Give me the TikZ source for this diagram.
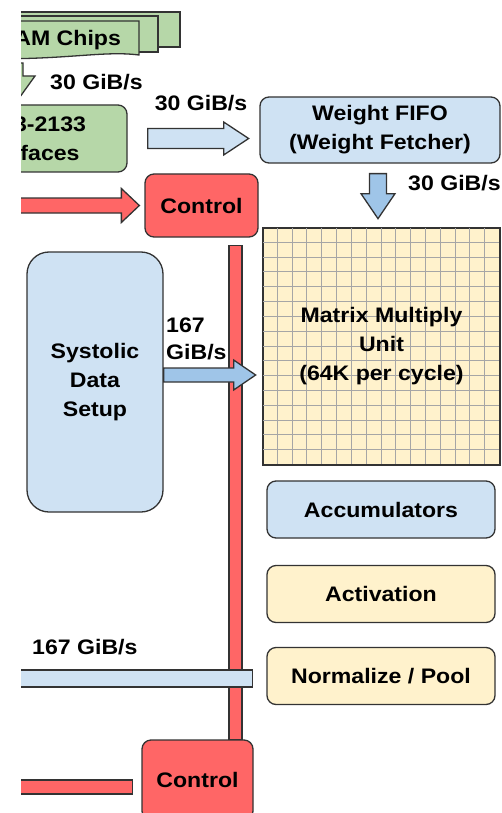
\documentclass[tikz,border=0pt]{standalone}
\usepackage{fontspec}
\setmainfont{Liberation Sans}[FakeStretch=1.1]
\usetikzlibrary{positioning}
\definecolor{ctrlred}{HTML}{FF6666}
\definecolor{dramgreen}{HTML}{B6D7A8}
\definecolor{paleblue}{HTML}{CFE2F3}
\definecolor{midblue}{HTML}{9FC5E8}
\definecolor{paleyellow}{HTML}{FFF2CC}

\begin{document}
\begin{tikzpicture}[
  x=1pt, y=-1pt,
  font=\fontsize{21}{29}\selectfont\bfseries,
  outline/.style={draw=black!80, line width=1.3pt},
  blk/.style={outline, rounded corners=9pt, align=center, inner sep=0pt},
  ctrl/.style={blk, fill=ctrlred, minimum width=112pt, minimum height=63pt},
  unit/.style={blk, minimum width=228pt, minimum height=57pt},
  rate/.style={inner sep=0pt, align=left},
  gridline/.style={draw=black!35, line width=0.7pt}
]
  \useasboundingbox (0,0) rectangle (501,813);
  \clip (21,0) rectangle (501,813);

  % memory side
  \draw[outline, fill=dramgreen] (-40,12) rectangle (180,47);
  \draw[outline, fill=dramgreen] (-40,16) rectangle (158,52);
  \draw[outline, fill=dramgreen] (-40,21) -- (139,21) -- (139,55)
    .. controls (100,50) and (60,62) .. (-40,58) -- cycle;
  \node (dram) at (51,40) {DRAM Chips};

  \draw[outline, fill=dramgreen] (1,63) -- ++(22,0) -- ++(0,13)
    -- ++(12,0) -- ++(-23,32) -- ++(-23,-32) -- ++(12,0) -- cycle;
  \node[blk, fill=dramgreen, minimum width=204pt, minimum height=67pt] (ddr) at (25,138.5) {DDR3-2133\\Interfaces};
  \node[rate, anchor=west] (rdram) at (50,82) {30 GiB/s};

  \node[blk, fill=paleblue, minimum width=240pt, minimum height=66pt] (fifo) at (380,130) {Weight FIFO\\(Weight Fetcher)};
  \node[rate] (rddr) at (201,103) {30 GiB/s};
  \draw[outline, fill=paleblue] ([xshift=20pt]ddr.east) ++(0,-10) -- ++(76,0) -- ++(0,-6.5)
    -- ++(25,16.5) -- ++(-25,16.5) -- ++(0,-6.5) -- ++(-76,0) -- cycle;

  \draw[outline, fill=midblue] ([xshift=-2pt,yshift=-10pt]fifo.south) ++(-8.5,0) -- ++(17,0) -- ++(0,20)
    -- ++(8.5,0) -- ++(-17,25) -- ++(-17,-25) -- ++(8.5,0) -- cycle;
  \node[rate, anchor=west] (rfifo) at (408,183) {30 GiB/s};

  % control
  \node[ctrl, minimum width=113pt] (ctrl1) at (201.5,205.5) {Control};
  \draw[outline, fill=ctrlred] ([xshift=-5pt]ctrl1.west) -- ++(-18,-17) -- ++(0,9.5) -- ++(-150,0)
    -- ++(0,15) -- ++(150,0) -- ++(0,9.5) -- cycle;
  \node[ctrl, minimum width=111pt, minimum height=80pt] (ctrl2) at (197.5,780) {Control};
  \draw[outline, fill=ctrlred] ([xshift=-9pt]ctrl2.west) rectangle ++(-170,14);
  \draw[outline, fill=ctrlred] ([xshift=27.5pt,yshift=-8pt]ctrl1.south) rectangle ([xshift=44.5pt]ctrl2.north);

  % matrix unit
  \node[outline, fill=paleyellow, minimum width=237pt, minimum height=237pt, inner sep=0pt] (mmu) at (381.5,346.5) {};
  \foreach \i in {1,...,15} {
    \draw[gridline, shift={(mmu.north west)}] (\i*14.8125,0) -- ++(0,237);
    \draw[gridline, shift={(mmu.north west)}] (0,\i*14.8125) -- ++(237,0);
  }
  \draw[outline] (mmu.north west) rectangle (mmu.south east);
  \node[align=center] (mmutext) at (mmu.center) {Matrix Multiply\\Unit\\(64K per cycle)};

  \node[blk, rounded corners=22pt, fill=paleblue, minimum width=136pt, minimum height=260pt] (sds) at (95,382) {Systolic\\Data\\Setup};
  \draw[outline, fill=midblue] ([yshift=7pt]sds.east) ++(0,-7) -- ++(70,0) -- ++(0,-8)
    -- ++(22,15) -- ++(-22,15) -- ++(0,-8) -- ++(-70,0) -- cycle;
  \node[rate, anchor=west, font=\fontsize{21}{27}\selectfont\bfseries] (rsds) at (166,338.5) {167\\GiB/s};

  % output units
  \node[unit, fill=paleblue] (acc) at (381,509.5) {Accumulators};
  \node[unit, fill=paleyellow] (act) at (381,594) {Activation};
  \node[unit, fill=paleyellow] (norm) at (381,676) {Normalize / Pool};
  \draw[outline, fill=paleblue] ([xshift=-14pt,yshift=-11pt]norm.west) rectangle ++(-280,-17);
  \node[rate, anchor=west] (rnorm) at (32,647) {167 GiB/s};
\end{tikzpicture}
\end{document}
